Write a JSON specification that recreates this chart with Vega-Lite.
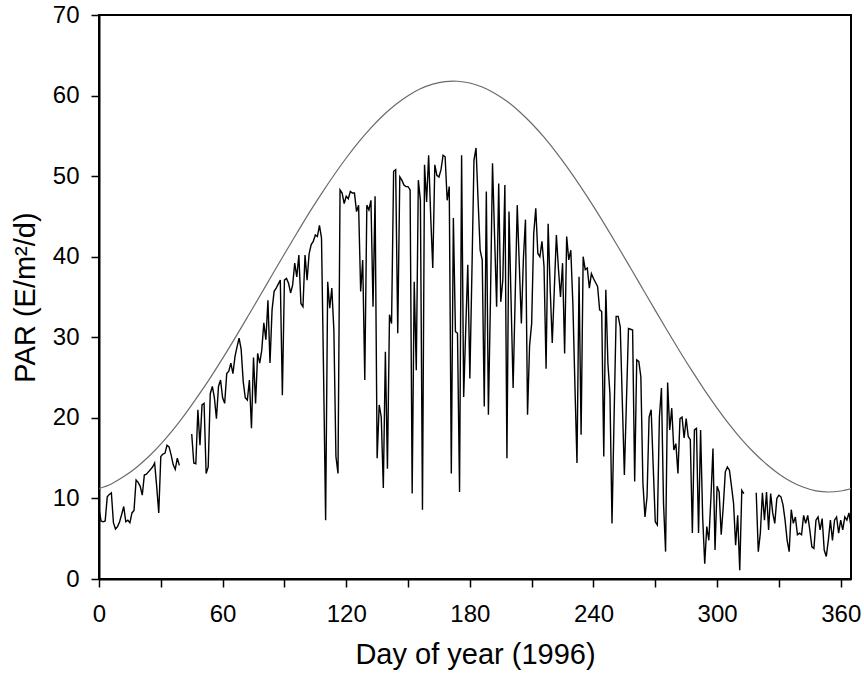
{
 "$schema": "https://vega.github.io/schema/vega-lite/v6.json",
 "width": 752, "height": 564,
 "autosize": "none",
 "padding": {"left": 99, "top": 15, "right": 13, "bottom": 104},
 "background": "white",
 "config": {"view": {"stroke": "black", "strokeWidth": 2}, "font": "Liberation Sans",
  "axis": {"grid": false, "tickColor": "black", "tickWidth": 1.5, "tickSize": 8, "domainColor": "black", "domainWidth": 2, "labelFontSize": 24, "titleFontSize": 29, "labelColor": "black", "titleColor": "black", "titleFontWeight": "normal", "labelOverlap": false, "labelFlush": false}},
 "datasets": {
  "clear": [
   {"day":0,"par":11.23},{"day":6,"par":11.8},{"day":12,"par":12.71},{"day":18,"par":13.81},{"day":24,"par":15.17},{"day":30,"par":16.75},{"day":36,"par":18.54},{"day":42,"par":20.53},{"day":48,"par":22.7},{"day":54,"par":24.97},{"day":60,"par":27.38},{"day":66,"par":29.9},{"day":72,"par":32.48},{"day":78,"par":35.09},{"day":84,"par":37.73},{"day":90,"par":40.34},{"day":96,"par":42.91},{"day":102,"par":45.44},{"day":108,"par":47.83},{"day":114,"par":50.11},{"day":120,"par":52.25},{"day":126,"par":54.22},{"day":132,"par":55.99},{"day":138,"par":57.56},{"day":144,"par":58.9},{"day":150,"par":59.99},{"day":156,"par":60.84},{"day":162,"par":61.42},{"day":168,"par":61.74},{"day":172,"par":61.8},{"day":174,"par":61.78},{"day":180,"par":61.56},{"day":186,"par":61.06},{"day":192,"par":60.3},{"day":198,"par":59.29},{"day":204,"par":58.03},{"day":210,"par":56.53},{"day":216,"par":54.83},{"day":222,"par":52.92},{"day":228,"par":50.84},{"day":234,"par":48.61},{"day":240,"par":46.25},{"day":246,"par":43.77},{"day":252,"par":41.21},{"day":258,"par":38.6},{"day":264,"par":35.97},{"day":270,"par":33.34},{"day":276,"par":30.75},{"day":282,"par":28.21},{"day":288,"par":25.76},{"day":294,"par":23.42},{"day":300,"par":21.22},{"day":306,"par":19.17},{"day":312,"par":17.31},{"day":318,"par":15.67},{"day":324,"par":14.24},{"day":330,"par":13.04},{"day":336,"par":12.08},{"day":342,"par":11.38},{"day":348,"par":10.94},{"day":354,"par":10.8},{"day":360,"par":10.92},{"day":366,"par":11.3}
  ],
  "daily": [
   {"day":0,"par":8.7},{"day":1,"par":7.2},{"day":2,"par":7.1},{"day":3,"par":7.2},{"day":4,"par":10.2},{"day":5,"par":10.5},{"day":6,"par":10.7},{"day":7,"par":7.0},{"day":8,"par":6.2},{"day":9,"par":6.5},
   {"day":10,"par":7.1},{"day":11,"par":8.0},{"day":12,"par":9.0},{"day":13,"par":7.1},{"day":14,"par":7.3},{"day":15,"par":7.0},{"day":16,"par":8.2},{"day":17,"par":8.5},{"day":18,"par":12.3},{"day":19,"par":12.0},
   {"day":20,"par":11.5},{"day":21,"par":10.4},{"day":22,"par":12.9},{"day":23,"par":13.0},{"day":24,"par":13.3},{"day":25,"par":13.6},{"day":26,"par":13.9},{"day":27,"par":14.4},{"day":28,"par":11.5},{"day":29,"par":8.2},
   {"day":30,"par":15.2},{"day":31,"par":15.5},{"day":32,"par":15.6},{"day":33,"par":16.6},{"day":34,"par":16.4},{"day":35,"par":15.4},{"day":36,"par":14.2},{"day":37,"par":13.6},{"day":38,"par":15.0},{"day":39,"par":14.1},
   {"day":40,"par":null},{"day":41,"par":null},{"day":42,"par":null},{"day":43,"par":null},{"day":44,"par":null},
   {"day":45,"par":18.0},{"day":46,"par":14.4},{"day":47,"par":14.3},{"day":48,"par":21.0},{"day":49,"par":16.6},
   {"day":50,"par":21.6},{"day":51,"par":21.8},{"day":52,"par":13.1},{"day":53,"par":13.9},{"day":54,"par":23.0},{"day":55,"par":23.9},{"day":56,"par":22.5},{"day":57,"par":19.9},{"day":58,"par":23.9},{"day":59,"par":24.7},
   {"day":60,"par":22.5},{"day":61,"par":21.8},{"day":62,"par":25.5},{"day":63,"par":25.8},{"day":64,"par":26.8},{"day":65,"par":25.5},{"day":66,"par":27.6},{"day":67,"par":28.8},{"day":68,"par":29.9},{"day":69,"par":28.5},
   {"day":70,"par":24.5},{"day":71,"par":22.5},{"day":72,"par":22.2},{"day":73,"par":24.7},{"day":74,"par":18.7},{"day":75,"par":27.5},{"day":76,"par":21.8},{"day":77,"par":28.0},{"day":78,"par":26.8},{"day":79,"par":28.4},
   {"day":80,"par":31.8},{"day":81,"par":29.7},{"day":82,"par":34.6},{"day":83,"par":26.8},{"day":84,"par":33.4},{"day":85,"par":35.7},{"day":86,"par":36.1},{"day":87,"par":36.6},{"day":88,"par":37.1},{"day":89,"par":22.8},
   {"day":90,"par":37.1},{"day":91,"par":37.3},{"day":92,"par":36.7},{"day":93,"par":35.5},{"day":94,"par":36.5},{"day":95,"par":39.2},{"day":96,"par":37.5},{"day":97,"par":40.2},{"day":98,"par":34.2},{"day":99,"par":33.8},
   {"day":100,"par":40.2},{"day":101,"par":37.1},{"day":102,"par":40.4},{"day":103,"par":41.5},{"day":104,"par":41.9},{"day":105,"par":42.7},{"day":106,"par":42.5},{"day":107,"par":43.9},{"day":108,"par":42.3},{"day":109,"par":25.5},
   {"day":110,"par":7.3},{"day":111,"par":36.9},{"day":112,"par":33.6},{"day":113,"par":36.1},{"day":114,"par":30.9},{"day":115,"par":15.2},{"day":116,"par":13.1},{"day":117,"par":48.3},{"day":118,"par":47.9},{"day":119,"par":46.6},
   {"day":120,"par":47.5},{"day":121,"par":47.2},{"day":122,"par":48.1},{"day":123,"par":47.9},{"day":124,"par":47.9},{"day":125,"par":45.6},{"day":126,"par":46.4},{"day":127,"par":35.7},{"day":128,"par":39.6},{"day":129,"par":24.7},
   {"day":130,"par":46.4},{"day":131,"par":45.8},{"day":132,"par":47.0},{"day":133,"par":33.8},{"day":134,"par":47.5},{"day":135,"par":15.0},{"day":136,"par":21.6},{"day":137,"par":20.1},{"day":138,"par":11.3},{"day":139,"par":28.2},
   {"day":140,"par":13.7},{"day":141,"par":32.8},{"day":142,"par":31.7},{"day":143,"par":50.6},{"day":144,"par":50.8},{"day":145,"par":30.5},{"day":146,"par":49.9},{"day":147,"par":49.5},{"day":148,"par":48.9},{"day":149,"par":48.7},
   {"day":150,"par":48.7},{"day":151,"par":48.3},{"day":152,"par":10.6},{"day":153,"par":36.9},{"day":154,"par":25.9},{"day":155,"par":49.5},{"day":156,"par":47.0},{"day":157,"par":8.6},{"day":158,"par":51.4},{"day":159,"par":46.8},
   {"day":160,"par":52.6},{"day":161,"par":45.0},{"day":162,"par":38.6},{"day":163,"par":51.4},{"day":164,"par":50.1},{"day":165,"par":49.9},{"day":166,"par":50.8},{"day":167,"par":52.6},{"day":168,"par":52.4},{"day":169,"par":47.0},
   {"day":170,"par":48.7},{"day":171,"par":13.1},{"day":172,"par":44.8},{"day":173,"par":30.7},{"day":174,"par":30.5},{"day":175,"par":10.8},{"day":176,"par":52.6},{"day":177,"par":22.6},{"day":178,"par":31.0},{"day":179,"par":39.0},
   {"day":180,"par":24.9},{"day":181,"par":38.0},{"day":182,"par":52.0},{"day":183,"par":53.5},{"day":184,"par":47.0},{"day":185,"par":40.8},{"day":186,"par":39.6},{"day":187,"par":21.4},{"day":188,"par":48.1},{"day":189,"par":20.4},
   {"day":190,"par":34.6},{"day":191,"par":51.6},{"day":192,"par":42.6},{"day":193,"par":33.8},{"day":194,"par":49.1},{"day":195,"par":34.4},{"day":196,"par":37.1},{"day":197,"par":48.9},{"day":198,"par":15.0},{"day":199,"par":45.6},
   {"day":200,"par":34.6},{"day":201,"par":23.7},{"day":202,"par":35.0},{"day":203,"par":46.4},{"day":204,"par":39.0},{"day":205,"par":31.7},{"day":206,"par":39.8},{"day":207,"par":44.6},{"day":208,"par":20.4},{"day":209,"par":29.0},
   {"day":210,"par":31.7},{"day":211,"par":42.9},{"day":212,"par":46.0},{"day":213,"par":40.4},{"day":214,"par":40.0},{"day":215,"par":41.9},{"day":216,"par":38.8},{"day":217,"par":26.1},{"day":218,"par":44.1},{"day":219,"par":36.0},
   {"day":220,"par":29.3},{"day":221,"par":36.0},{"day":222,"par":42.7},{"day":223,"par":38.5},{"day":224,"par":35.0},{"day":225,"par":39.2},{"day":226,"par":28.0},{"day":227,"par":42.5},{"day":228,"par":39.6},{"day":229,"par":40.8},
   {"day":230,"par":34.2},{"day":231,"par":24.0},{"day":232,"par":14.4},{"day":233,"par":37.5},{"day":234,"par":17.9},{"day":235,"par":40.0},{"day":236,"par":38.4},{"day":237,"par":38.6},{"day":238,"par":36.1},{"day":239,"par":37.9},
   {"day":240,"par":37.3},{"day":241,"par":36.8},{"day":242,"par":36.3},{"day":243,"par":33.4},{"day":244,"par":33.2},{"day":245,"par":15.2},{"day":246,"par":35.9},{"day":247,"par":26.8},{"day":248,"par":23.0},{"day":249,"par":6.9},
   {"day":250,"par":20.0},{"day":251,"par":32.6},{"day":252,"par":32.6},{"day":253,"par":31.3},{"day":254,"par":22.0},{"day":255,"par":12.9},{"day":256,"par":22.0},{"day":257,"par":31.1},{"day":258,"par":31.0},{"day":259,"par":30.9},
   {"day":260,"par":12.1},{"day":261,"par":27.2},{"day":262,"par":27.0},{"day":263,"par":25.1},{"day":264,"par":11.9},{"day":265,"par":7.7},{"day":266,"par":10.2},{"day":267,"par":20.1},{"day":268,"par":21.0},{"day":269,"par":14.0},
   {"day":270,"par":7.1},{"day":271,"par":6.7},{"day":272,"par":20.1},{"day":273,"par":23.7},{"day":274,"par":9.4},{"day":275,"par":3.4},{"day":276,"par":24.4},{"day":277,"par":18.5},{"day":278,"par":21.2},{"day":279,"par":16.0},
   {"day":280,"par":16.8},{"day":281,"par":13.1},{"day":282,"par":19.9},{"day":283,"par":20.1},{"day":284,"par":17.5},{"day":285,"par":19.9},{"day":286,"par":17.7},{"day":287,"par":17.3},{"day":288,"par":5.7},{"day":289,"par":18.5},
   {"day":290,"par":18.7},{"day":291,"par":5.7},{"day":292,"par":18.5},{"day":293,"par":7.7},{"day":294,"par":1.9},{"day":295,"par":6.5},{"day":296,"par":4.8},{"day":297,"par":10.0},{"day":298,"par":16.2},{"day":299,"par":3.6},
   {"day":300,"par":11.5},{"day":301,"par":10.8},{"day":302,"par":5.5},{"day":303,"par":9.0},{"day":304,"par":13.3},{"day":305,"par":13.9},{"day":306,"par":13.5},{"day":307,"par":11.5},{"day":308,"par":9.4},{"day":309,"par":4.2},
   {"day":310,"par":7.9},{"day":311,"par":1.1},{"day":312,"par":11.0},{"day":313,"par":10.6},
   {"day":314,"par":null},{"day":315,"par":null},{"day":316,"par":null},{"day":317,"par":null},{"day":318,"par":null},
   {"day":319,"par":10.7},{"day":320,"par":3.4},{"day":321,"par":5.7},{"day":322,"par":10.7},{"day":323,"par":7.3},{"day":324,"par":10.8},{"day":325,"par":6.1},{"day":326,"par":10.6},{"day":327,"par":8.2},{"day":328,"par":6.9},{"day":329,"par":10.0},
   {"day":330,"par":10.4},{"day":331,"par":10.2},{"day":332,"par":9.2},{"day":333,"par":7.3},{"day":334,"par":4.8},{"day":335,"par":3.4},{"day":336,"par":8.6},{"day":337,"par":6.9},{"day":338,"par":7.7},{"day":339,"par":5.5},
   {"day":340,"par":5.7},{"day":341,"par":5.5},{"day":342,"par":7.9},{"day":343,"par":6.9},{"day":344,"par":7.9},{"day":345,"par":6.1},{"day":346,"par":4.0},{"day":347,"par":3.8},{"day":348,"par":7.3},{"day":349,"par":7.7},
   {"day":350,"par":6.1},{"day":351,"par":7.5},{"day":352,"par":3.6},{"day":353,"par":2.8},{"day":354,"par":4.8},{"day":355,"par":7.3},{"day":356,"par":4.8},{"day":357,"par":7.3},{"day":358,"par":7.7},{"day":359,"par":5.7},
   {"day":360,"par":7.3},{"day":361,"par":6.1},{"day":362,"par":7.7},{"day":363,"par":7.3},{"day":364,"par":8.2},{"day":365,"par":6.5}
  ]
 },
 "encoding": {
  "x": {"field": "day", "type": "quantitative", "scale": {"domain": [0, 365], "nice": false, "zero": false},
   "axis": {"values": [0,30,60,90,120,150,180,210,240,270,300,330,360], "labelExpr": "datum.value % 60 == 0 ? datum.label : ''", "title": "Day of year (1996)", "labelPadding": 15, "titlePadding": 14}},
  "y": {"field": "par", "type": "quantitative", "scale": {"domain": [0, 70], "nice": false},
   "axis": {"values": [0,10,20,30,40,50,60,70], "title": "PAR (E/m²/d)", "labelPadding": 12, "titlePadding": 12}}
 },
 "layer": [
  {"data": {"name": "clear"}, "mark": {"type": "line", "color": "#6a6a6a", "strokeWidth": 1.2, "interpolate": "monotone", "clip": true}},
  {"data": {"name": "daily"}, "mark": {"type": "line", "color": "black", "strokeWidth": 1.4, "invalid": "break-paths-show-domains", "clip": true}}
 ]
}
